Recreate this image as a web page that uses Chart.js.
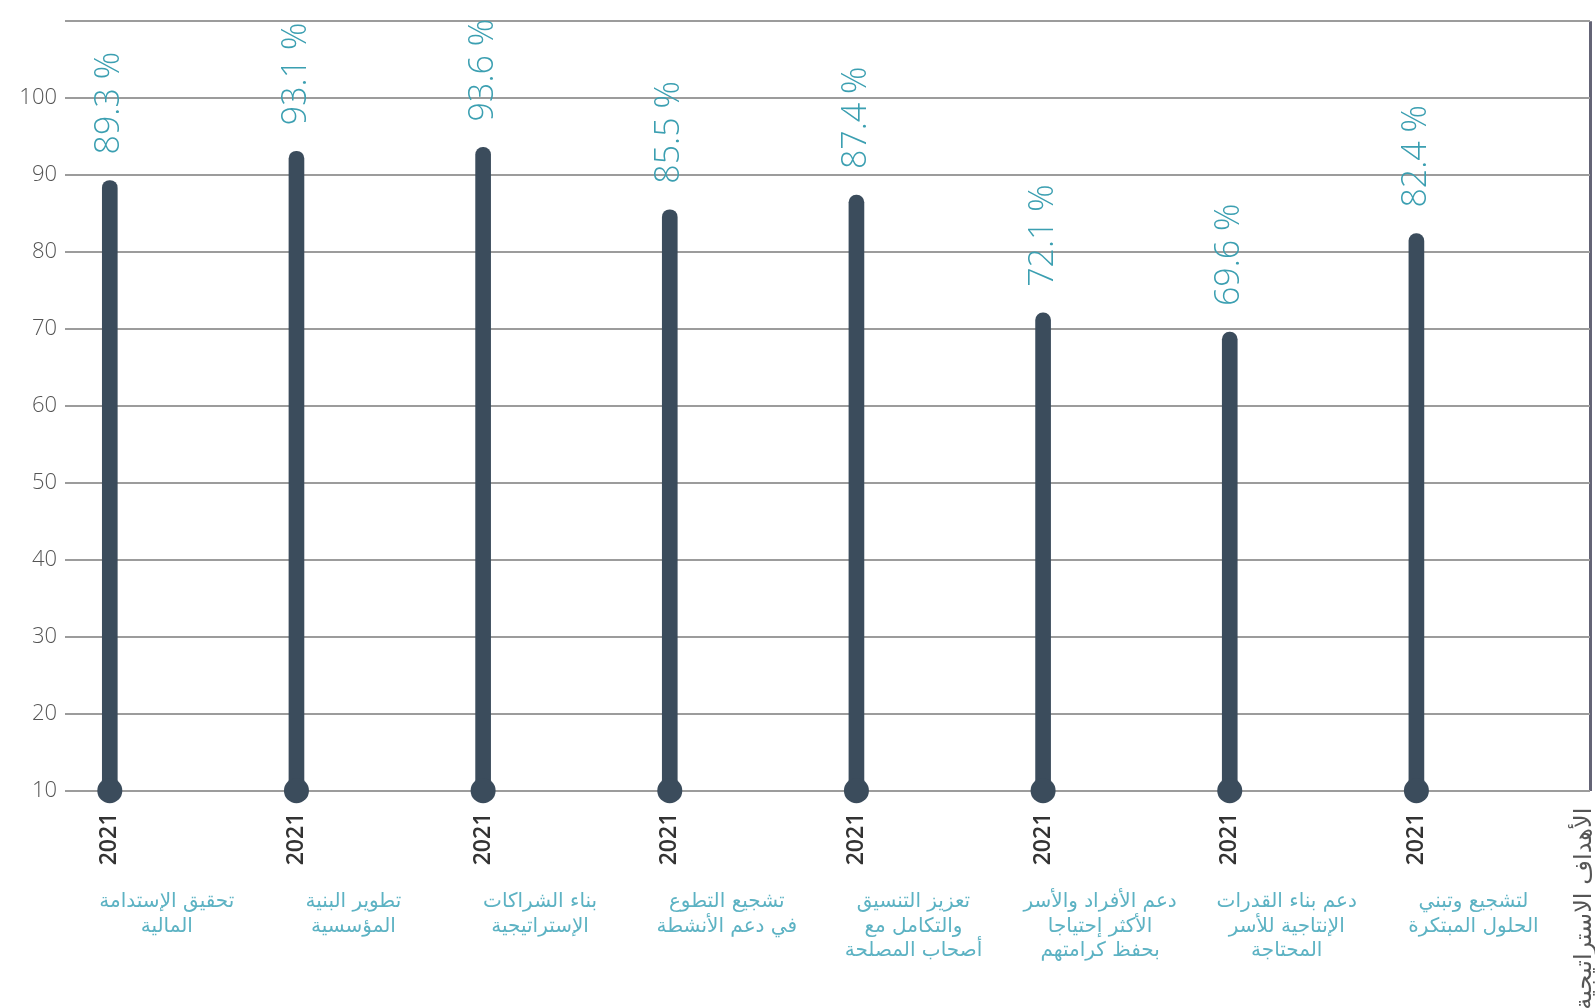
<!DOCTYPE html>
<html lang="ar">
<head>
  <meta charset="UTF-8">
  <title>الأهداف الاستراتيجية 2021</title>
  <script src="https://cdn.jsdelivr.net/npm/chart.js"></script>
  <style>
    body, html {
      margin: 0;
      padding: 0;
      overflow: hidden;
      background: #fff;
    }
    #wrap {
      width: 1595px;
      height: 1008px;
      position: relative;
    }
  </style>
</head>
<body>
  <div id="wrap"><canvas id="goalsChart"></canvas></div>

  <script>
    // Strategic goals (one per bar), year and achieved percentage
    const categories = [
      ['تحقيق الإستدامة', 'المالية'],
      ['تطوير البنية', 'المؤسسية'],
      ['بناء الشراكات', 'الإستراتيجية'],
      ['تشجيع التطوع', 'في دعم الأنشطة'],
      ['تعزيز التنسيق', 'والتكامل مع', 'أصحاب المصلحة'],
      ['دعم الأفراد والأسر', 'الأكثر إحتياجا', 'بحفظ كرامتهم'],
      ['دعم بناء القدرات', 'الإنتاجية للأسر', 'المحتاجة'],
      ['لتشجيع وتبني', 'الحلول المبتكرة']
    ];
    const years = ['2021', '2021', '2021', '2021', '2021', '2021', '2021', '2021'];
    const values = [89.3, 93.1, 93.6, 85.5, 87.4, 72.1, 69.6, 82.4];
    const axisTitle = 'الأهداف الاستراتيجية';
    const yTicks = [10, 20, 30, 40, 50, 60, 70, 80, 90, 100];

    const Y_MIN = 10, Y_MAX = 110;
    const X_MIN = 0.76, X_MAX = 8.93;

    const barColor = '#3b4c5c';
    const valueColor = '#3b9fb1';
    const goalColor = '#5cb2c3';

    const positions = values.map((v, i) => i + 1);
    const barData = values.map((v, i) => ({ x: positions[i], y: v }));
    const dotData = values.map((v, i) => ({ x: positions[i], y: Y_MIN }));

    // Rotated value labels above each bar + rotated axis title at the right end
    const valueLabels = {
      id: 'valueLabels',
      afterDatasetsDraw(chart) {
        const ctx = chart.ctx;
        const meta = chart.getDatasetMeta(0);
        ctx.save();
        ctx.fillStyle = valueColor;
        ctx.font = '300 34px "Open Sans", sans-serif';
        ctx.textAlign = 'left';
        ctx.textBaseline = 'middle';
        meta.data.forEach((bar, i) => {
          ctx.save();
          ctx.translate(bar.x, bar.y - 26);
          ctx.rotate(-Math.PI / 2);
          ctx.fillText(values[i].toFixed(1) + ' %', 0, 0);
          ctx.restore();
        });
        ctx.restore();
      },
      afterDraw(chart) {
        const ctx = chart.ctx;
        const x = chart.scales.x.getPixelForValue(X_MAX) - 5;
        ctx.save();
        ctx.fillStyle = '#555';
        ctx.font = '24px "DejaVu Sans", sans-serif';
        ctx.textAlign = 'right';
        ctx.textBaseline = 'middle';
        ctx.translate(x, chart.chartArea.bottom + 17);
        ctx.rotate(-Math.PI / 2);
        ctx.fillText(axisTitle, 0, 0);
        ctx.restore();
      }
    };

    function setTicks(scale) {
      scale.ticks = positions.map(v => ({ value: v })).concat([{ value: X_MAX }]);
    }

    const ctx = document.getElementById('goalsChart').getContext('2d');
    new Chart(ctx, {
      type: 'bar',
      data: {
        datasets: [
          {
            label: 'نسبة الإنجاز',
            data: barData,
            backgroundColor: barColor,
            barThickness: 15,
            borderRadius: 8,
            order: 2
          },
          {
            type: 'line',
            label: 'base',
            data: dotData,
            showLine: false,
            pointRadius: 12.5,
            pointHoverRadius: 12.5,
            pointBackgroundColor: barColor,
            pointBorderWidth: 0,
            clip: false,
            order: 1
          }
        ]
      },
      options: {
        responsive: true,
        maintainAspectRatio: false,
        animation: false,
        layout: { autoPadding: false, padding: { top: 21, right: 5, left: 0, bottom: 0 } },
        scales: {
          x: {
            type: 'linear',
            position: 'bottom',
            offset: false,
            min: X_MIN,
            max: X_MAX,
            afterBuildTicks: setTicks,
            afterFit(scale) {
              scale.height = 90;
              scale.paddingLeft = 0;
              scale.paddingRight = 0;
            },
            border: { display: false },
            grid: {
              offset: false,
              drawTicks: false,
              lineWidth: 3,
              color: c => (c.tick && c.tick.value === X_MAX) ? '#646476' : 'rgba(0,0,0,0)'
            },
            ticks: {
              autoSkip: false,
              minRotation: 90,
              maxRotation: 90,
              padding: 22,
              color: '#333',
              font: { family: '"Open Sans", sans-serif', size: 23, weight: '600' },
              callback: v => v === X_MAX ? '' : years[v - 1]
            }
          },
          x2: {
            type: 'linear',
            position: 'bottom',
            offset: false,
            min: X_MIN,
            max: X_MAX,
            afterBuildTicks: setTicks,
            afterFit(scale) {
              scale.height = 127.3;
              scale.paddingLeft = 0;
              scale.paddingRight = 0;
            },
            border: { display: false },
            grid: { display: false, drawTicks: false, offset: false },
            ticks: {
              autoSkip: false,
              maxRotation: 0,
              minRotation: 0,
              padding: 9,
              labelOffset: 57,
              color: goalColor,
              font: { family: '"DejaVu Sans", sans-serif', size: 20, lineHeight: 1.22 },
              callback: v => v === X_MAX ? '' : categories[v - 1]
            }
          },
          y: {
            min: Y_MIN,
            max: Y_MAX,
            afterBuildTicks(scale) {
              scale.ticks = yTicks.concat([Y_MAX]).map(v => ({ value: v }));
            },
            afterFit(scale) { scale.width = 65; },
            border: { display: false },
            grid: {
              drawTicks: false,
              color: '#9c9c9c',
              lineWidth: 2
            },
            ticks: {
              padding: 8,
              color: '#555',
              font: { family: '"Open Sans", sans-serif', size: 22, weight: '300' },
              callback: v => v === Y_MAX ? '' : v
            }
          }
        },
        plugins: {
          legend: { display: false },
          tooltip: { enabled: false }
        }
      },
      plugins: [valueLabels]
    });
  </script>
</body>
</html>
